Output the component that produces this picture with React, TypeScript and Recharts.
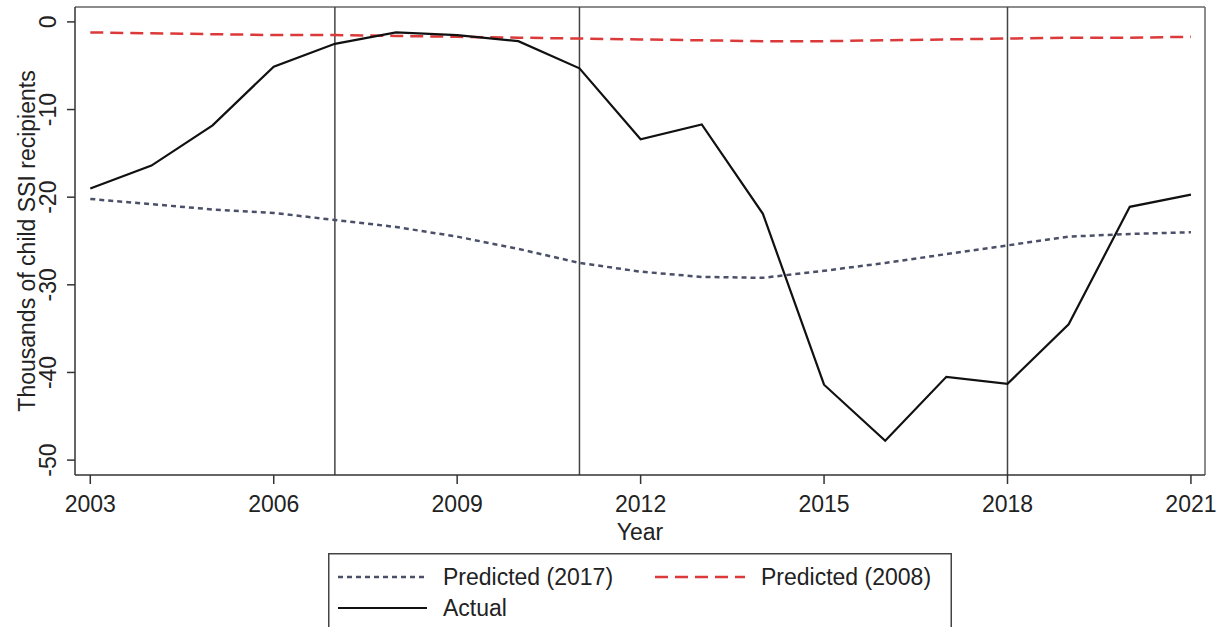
import React from 'react'
import {
  LineChart, Line, XAxis, YAxis, ReferenceLine, Legend,
} from 'recharts'

const years = [2003, 2004, 2005, 2006, 2007, 2008, 2009, 2010, 2011, 2012, 2013, 2014, 2015, 2016, 2017, 2018, 2019, 2020, 2021]
const actual = [-19.0, -16.4, -11.8, -5.1, -2.5, -1.2, -1.5, -2.2, -5.3, -13.4, -11.7, -21.9, -41.4, -47.8, -40.5, -41.3, -34.5, -21.1, -19.7]
const predicted2017 = [-20.2, -20.8, -21.4, -21.8, -22.6, -23.4, -24.5, -25.9, -27.5, -28.5, -29.1, -29.2, -28.4, -27.5, -26.5, -25.5, -24.5, -24.2, -24.0]
const predicted2008 = [-1.2, -1.3, -1.4, -1.5, -1.5, -1.6, -1.7, -1.8, -1.9, -2.0, -2.1, -2.2, -2.2, -2.1, -2.0, -1.9, -1.8, -1.8, -1.7]

const xTicks = [2003, 2006, 2009, 2012, 2015, 2018, 2021]
const yTicks = [0, -10, -20, -30, -40, -50]
const eventYears = [2007, 2011, 2018]

const xDomain: [number, number] = [2002.75, 2021.23]
const yDomain: [number, number] = [-51.7, 1.7]

const rows = years.map((year, i) => ({
  year,
  actual: actual[i],
  p2017: predicted2017[i],
  p2008: predicted2008[i],
}))

const FONT = '"Liberation Sans", Arial, sans-serif'
const INK = '#222'
const DOTTED = '#4a5068'
const RED = '#dc3a3a'

function YTick({ x, y, payload }: any) {
  const cx = 47.5
  return (
    <text
      x={cx}
      y={y}
      dy="0.35em"
      transform={`rotate(-90 ${cx} ${y})`}
      textAnchor="middle"
      fontFamily={FONT}
      fontSize={23}
      fill={INK}
    >
      {payload.value}
    </text>
  )
}

function LegendBox() {
  return (
    <svg width={624} height={74} style={{ display: 'block' }}>
      <rect x={0.75} y={0.75} width={622.5} height={74} fill="#fff" stroke="#444" strokeWidth={1.5} />
      <line x1={10} x2={99} y1={24} y2={24} stroke={DOTTED} strokeWidth={2.5} strokeDasharray="5 4" />
      <text x={115} y={24} dy="0.35em" fontFamily={FONT} fontSize={23} fill={INK}>Predicted (2017)</text>
      <line x1={327} x2={417} y1={24} y2={24} stroke={RED} strokeWidth={2.5} strokeDasharray="13 7" />
      <text x={433} y={24} dy="0.35em" fontFamily={FONT} fontSize={23} fill={INK}>Predicted (2008)</text>
      <line x1={10} x2={99} y1={55} y2={55} stroke="#111" strokeWidth={2.2} />
      <text x={115} y={55} dy="0.35em" fontFamily={FONT} fontSize={23} fill={INK}>Actual</text>
    </svg>
  )
}

export default function App() {
  return (
    <div style={{ position: 'absolute', left: 0, top: 0, background: '#fff' }}>
      <LineChart width={1225} height={629} data={rows} margin={{ top: 7, right: 20, left: 0, bottom: 0 }}>
        <XAxis
          dataKey="year"
          type="number"
          domain={xDomain}
          allowDataOverflow
          ticks={xTicks}
          tickSize={9}
          tickMargin={12}
          height={80}
          stroke="#333"
          strokeWidth={1.5}
          tick={{ fontSize: 23, fontFamily: FONT, fill: INK }}
          label={{ value: 'Year', position: 'insideTop', offset: 49, style: { fontSize: 23, fontFamily: FONT, fill: INK } }}
        />
        <YAxis
          type="number"
          domain={yDomain}
          allowDataOverflow
          ticks={yTicks}
          tickSize={8}
          width={75}
          stroke="#333"
          strokeWidth={1.5}
          tick={<YTick />}
          label={{
            value: 'Thousands of child SSI recipients',
            angle: -90,
            position: 'insideLeft',
            offset: 27,
            style: { fontSize: 23, fontFamily: FONT, fill: INK, textAnchor: 'middle' },
          }}
        />
        <ReferenceLine y={yDomain[1]} stroke="#666" strokeWidth={1.5} />
        <ReferenceLine x={xDomain[1]} stroke="#666" strokeWidth={1.5} />
        {eventYears.map((yr) => (
          <ReferenceLine key={yr} x={yr} stroke="#444" strokeWidth={1.5} />
        ))}
        <Line dataKey="p2017" name="Predicted (2017)" stroke={DOTTED} strokeWidth={2.5} strokeDasharray="5 4" dot={false} isAnimationActive={false} />
        <Line dataKey="p2008" name="Predicted (2008)" stroke={RED} strokeWidth={2.5} strokeDasharray="13 7" dot={false} isAnimationActive={false} />
        <Line dataKey="actual" name="Actual" stroke="#111" strokeWidth={2.2} dot={false} isAnimationActive={false} />
        <Legend
          verticalAlign="bottom"
          height={73}
          content={() => <LegendBox />}
          wrapperStyle={{ left: 328, top: 553, width: 624, height: 74, bottom: 'auto' }}
        />
      </LineChart>
    </div>
  )
}
